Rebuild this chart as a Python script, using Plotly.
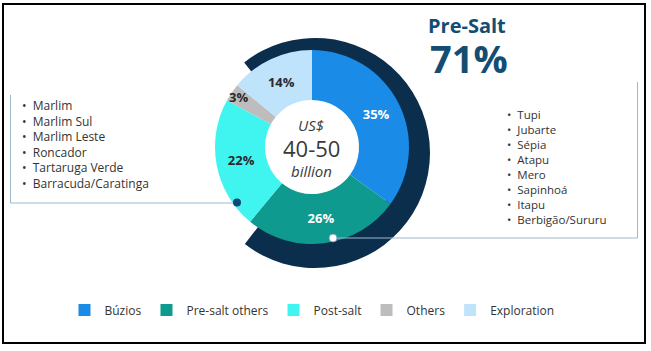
import plotly.graph_objects as go

W, H = 651, 351

# ---- data ----
categories = ["Búzios", "Pre-salt others", "Post-salt", "Others", "Exploration"]
shares = [35, 26, 22, 3, 14]
colors = ["#1a8be6", "#0f9a8f", "#40f5f0", "#bdbdbd", "#bfe3fa"]
label_colors = ["#ffffff", "#ffffff", "#2a2a2a", "#2a2a2a", "#2a2a2a"]

presalt_share = 71
presalt_title = "Pre-Salt"

center_lines = ["US$", "40-50", "billion"]

post_salt_fields = ["Marlim", "Marlim Sul", "Marlim Leste", "Roncador",
                    "Tartaruga Verde", "Barracuda/Caratinga"]
pre_salt_fields = ["Tupi", "Jubarte", "Sépia", "Atapu", "Mero", "Sapinhoá",
                   "Itapu", "Berbigão/Sururu"]

FONT = "Open Sans"
NAVY = "#0a2e4c"
TITLE_BLUE = "#134d73"
TXT = "#333333"
LINE = "#9ab8cc"


def px(x):
    return x / W


def py(y):
    return 1 - y / H


fig = go.Figure()

# outer pre-salt arc (drawn first, behind the donut)
fig.add_trace(go.Pie(
    values=[presalt_share, 100 - presalt_share],
    marker=dict(colors=[NAVY, "rgba(0,0,0,0)"], line=dict(width=0)),
    sort=False, direction="clockwise", rotation=-38,
    hole=0.74, textinfo="none", hoverinfo="skip", showlegend=False,
    domain=dict(x=[px(200), px(430)], y=[py(268), py(38)]),
))

# main donut
fig.add_trace(go.Pie(
    labels=categories, values=shares,
    marker=dict(colors=colors, line=dict(width=0)),
    sort=False, direction="clockwise", rotation=0,
    hole=0.485,
    texttemplate="%{value}%", textposition="inside",
    insidetextorientation="horizontal",
    textfont=dict(family=FONT, size=13, color=label_colors, weight="bold"),
    hoverinfo="label+percent",
    domain=dict(x=[px(215), px(409)], y=[py(244), py(50)]),
))

annotations = []
# center text
annotations.append(dict(x=px(311), y=py(125), text="<i>" + center_lines[0] + "</i>",
                        font=dict(family=FONT, size=15, color="#3a3a3a")))
annotations.append(dict(x=px(311), y=py(148), text=center_lines[1],
                        font=dict(family=FONT, size=22, color="#3a3a3a")))
annotations.append(dict(x=px(311), y=py(171), text="<i>" + center_lines[2] + "</i>",
                        font=dict(family=FONT, size=15, color="#3a3a3a")))
# Pre-salt headline
annotations.append(dict(x=px(467), y=py(25), text="<b>" + presalt_title + "</b>",
                        font=dict(family=FONT, size=20, color=TITLE_BLUE)))
annotations.append(dict(x=px(469), y=py(58), text="<b>%d%%</b>" % presalt_share,
                        font=dict(family=FONT, size=38, color=TITLE_BLUE)))
# bullet lists
annotations.append(dict(x=px(20), y=py(144), xanchor="left", align="left",
                        text="<br>".join("•  " + s for s in post_salt_fields),
                        font=dict(family=FONT, size=12, color=TXT)))
annotations.append(dict(x=px(505), y=py(167), xanchor="left", align="left",
                        text="<br>".join("•  " + s for s in pre_salt_fields),
                        font=dict(family=FONT, size=11.5, color=TXT)))
for a in annotations:
    a.update(xref="paper", yref="paper", showarrow=False)
    a.setdefault("xanchor", "center")
    a.setdefault("yanchor", "middle")

shapes = []
# frame
shapes.append(dict(type="rect", x0=px(3), x1=px(645), y0=py(343), y1=py(4),
                   line=dict(color="#000000", width=2)))
# left connector
shapes.append(dict(type="line", x0=px(10.5), x1=px(10.5), y0=py(95), y1=py(203),
                   line=dict(color=LINE, width=1)))
shapes.append(dict(type="line", x0=px(10.5), x1=px(237), y0=py(203), y1=py(203),
                   line=dict(color=LINE, width=1)))
shapes.append(dict(type="circle", x0=px(233), x1=px(241), y0=py(206.5), y1=py(198.5),
                   fillcolor="#0d4a78", line=dict(width=0)))
# right connector
shapes.append(dict(type="line", x0=px(637.5), x1=px(637.5), y0=py(82), y1=py(238),
                   line=dict(color=LINE, width=1)))
shapes.append(dict(type="line", x0=px(333), x1=px(637.5), y0=py(238), y1=py(238),
                   line=dict(color=LINE, width=1)))
shapes.append(dict(type="circle", x0=px(329), x1=px(337), y0=py(242), y1=py(234),
                   fillcolor="#ffffff", line=dict(color="#6f8fa5", width=0.8)))
for s in shapes:
    s.update(xref="paper", yref="paper")

fig.update_layout(
    width=W, height=H,
    margin=dict(l=0, r=0, t=0, b=0),
    paper_bgcolor="#ffffff", plot_bgcolor="#ffffff",
    font=dict(family=FONT, color=TXT),
    uniformtext=dict(minsize=12, mode="show"),
    showlegend=True,
    legend=dict(orientation="h", x=px(312), xanchor="center", y=py(310), yanchor="middle",
                font=dict(family=FONT, size=12, color=TXT), traceorder="normal",
                entrywidth=0, itemwidth=30, bgcolor="rgba(0,0,0,0)"),
    annotations=annotations, shapes=shapes,
)

fig.write_html("out.html")
